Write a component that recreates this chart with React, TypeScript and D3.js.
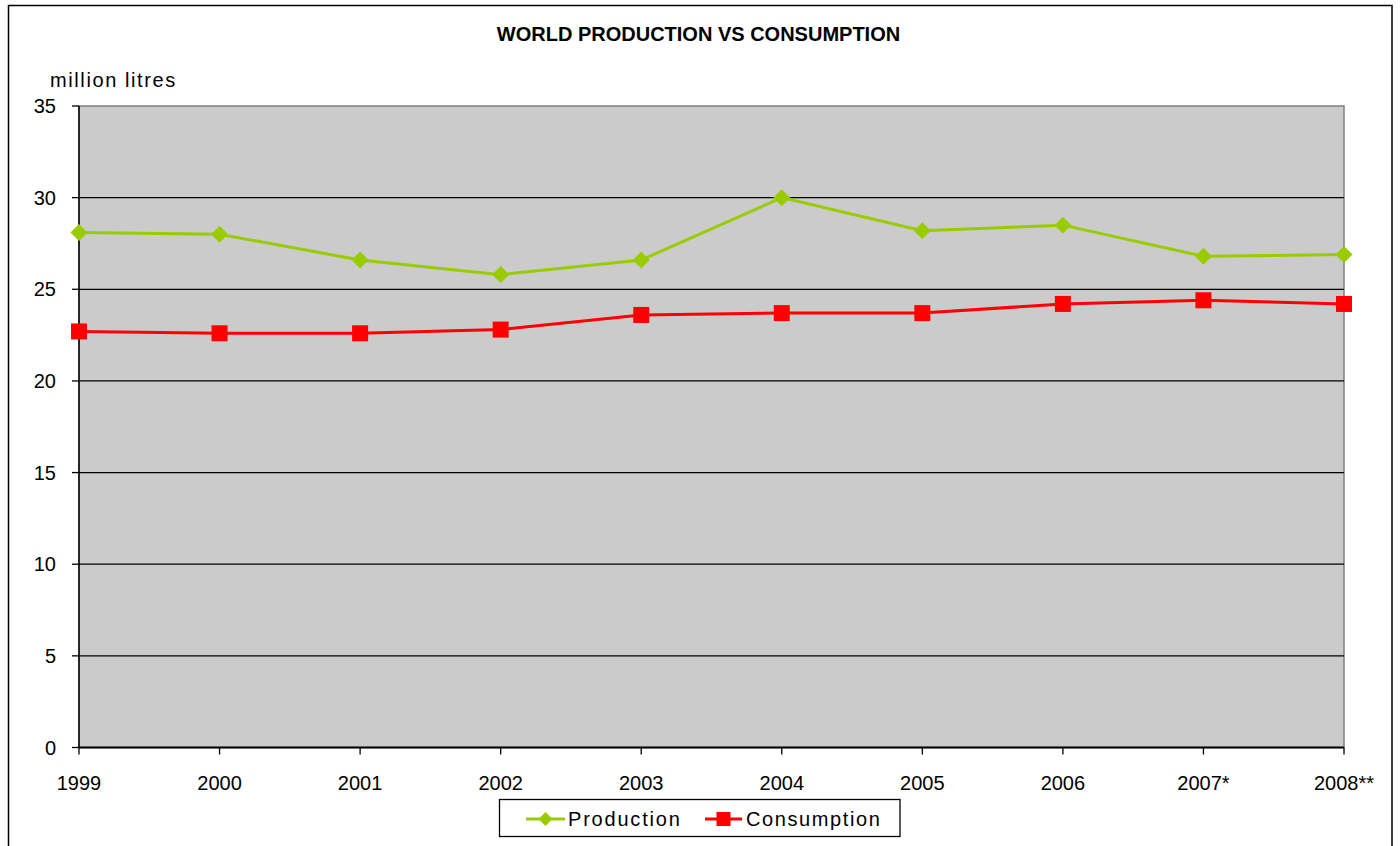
import React from "react";
import * as d3 from "d3";

const years = ["1999", "2000", "2001", "2002", "2003", "2004", "2005", "2006", "2007*", "2008**"];
const production = [28.1, 28.0, 26.6, 25.8, 26.6, 30.0, 28.2, 28.5, 26.8, 26.9];
const consumption = [22.7, 22.6, 22.6, 22.8, 23.6, 23.7, 23.7, 24.2, 24.4, 24.2];
const yTicks = [0, 5, 10, 15, 20, 25, 30, 35];

const W = 1400;
const H = 846;
const FONT = "'Liberation Sans', Arial, sans-serif";
const PROD_COLOR = "#99CC00";
const CONS_COLOR = "#FF0000";

export default function App() {
  const left = 79;
  const right = 1344;
  const top = 106;
  const bottom = 747.5;

  const x = d3.scalePoint<string>().domain(years).range([left, right]);
  const y = d3.scaleLinear().domain([0, 35]).range([bottom, top]);

  const line = d3
    .line<number>()
    .x((_, i) => x(years[i]) as number)
    .y((d) => y(d));

  const diamond = (cx: number, cy: number, r: number) =>
    `M${cx},${cy - r}L${cx + r},${cy}L${cx},${cy + r}L${cx - r},${cy}Z`;

  return (
    <svg
      width={W}
      height={H}
      style={{ position: "absolute", left: 0, top: 0, background: "#fff" }}
      fontFamily={FONT}
    >
      <rect x={8.5} y={5.5} width={1383.5} height={850} fill="#fff" stroke="#000" strokeWidth={1.5} />
      <text x={698.5} y={41} textAnchor="middle" fontSize={20} fontWeight="bold" fill="#000">
        WORLD PRODUCTION VS CONSUMPTION
      </text>
      <text x={50} y={87} fontSize={20} letterSpacing={1.6} fill="#000">
        million litres
      </text>

      {/* plot area */}
      <rect x={left} y={top} width={right - left} height={bottom - top} fill="#CBCBCB" stroke="#808080" strokeWidth={1.5} />

      {/* gridlines */}
      {yTicks
        .filter((t) => t > 0 && t < 35)
        .map((t) => (
          <line key={"g" + t} x1={left} x2={right} y1={y(t)} y2={y(t)} stroke="#000" strokeWidth={1.3} />
        ))}

      {/* y axis */}
      <line x1={left} x2={left} y1={top} y2={bottom} stroke="#000" strokeWidth={1.5} />
      {yTicks.map((t) => (
        <g key={"y" + t}>
          <line x1={left - 7} x2={left} y1={y(t)} y2={y(t)} stroke="#000" strokeWidth={1.3} />
          <text x={56} y={y(t)} dy="0.36em" textAnchor="end" fontSize={20} fill="#000">
            {t}
          </text>
        </g>
      ))}

      {/* x axis */}
      <line x1={left} x2={right} y1={bottom} y2={bottom} stroke="#000" strokeWidth={2} />
      {years.map((yr) => (
        <g key={"x" + yr}>
          <line x1={x(yr)} x2={x(yr)} y1={bottom} y2={bottom + 7} stroke="#000" strokeWidth={1.3} />
          <text x={x(yr)} y={790} textAnchor="middle" fontSize={20} fill="#000">
            {yr}
          </text>
        </g>
      ))}

      {/* production */}
      <path d={line(production) as string} fill="none" stroke={PROD_COLOR} strokeWidth={3} />
      {production.map((v, i) => (
        <path key={"p" + i} d={diamond(x(years[i]) as number, y(v), 8.5)} fill={PROD_COLOR} />
      ))}

      {/* consumption */}
      <path d={line(consumption) as string} fill="none" stroke={CONS_COLOR} strokeWidth={3} />
      {consumption.map((v, i) => (
        <rect key={"c" + i} x={(x(years[i]) as number) - 8} y={y(v) - 8} width={16} height={16} fill={CONS_COLOR} />
      ))}

      {/* legend */}
      <rect x={499.5} y={799.5} width={400.5} height={37} fill="#fff" stroke="#000" strokeWidth={1.3} />
      <line x1={526} x2={565} y1={819} y2={819} stroke={PROD_COLOR} strokeWidth={3} />
      <path d={diamond(545.5, 819, 7)} fill={PROD_COLOR} />
      <text x={568} y={826} fontSize={20} letterSpacing={1.8} fill="#000">
        Production
      </text>
      <line x1={705} x2={742} y1={819} y2={819} stroke={CONS_COLOR} strokeWidth={3} />
      <rect x={716.5} y={812} width={14} height={14} fill={CONS_COLOR} />
      <text x={746} y={826} fontSize={20} letterSpacing={1.6} fill="#000">
        Consumption
      </text>
    </svg>
  );
}
